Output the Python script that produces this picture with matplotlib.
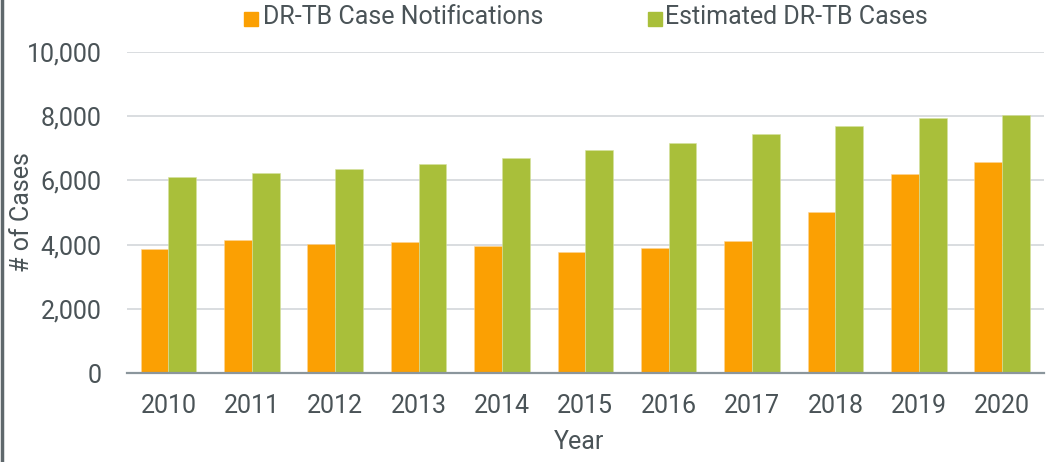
import numpy as np
import matplotlib
matplotlib.use("Agg")
import matplotlib.pyplot as plt
from matplotlib.lines import Line2D
from matplotlib.patches import Rectangle

plt.rcParams['font.family'] = ['Roboto', 'DejaVu Sans']

years = ['2010', '2011', '2012', '2013', '2014', '2015',
         '2016', '2017', '2018', '2019', '2020']
notifications = [3850, 4150, 4020, 4080, 3970, 3760, 3900, 4100, 5010, 6190, 6560]
estimated = [6110, 6220, 6360, 6500, 6700, 6940, 7160, 7440, 7690, 7930, 8030]
series_names = ['DR-TB Case Notifications', 'Estimated DR-TB Cases']

orange = '#FBA003'
green = '#A9BF3A'
text_col = '#4A5357'
W, H = 1047, 462

fig = plt.figure(figsize=(W / 100, H / 100), dpi=100)
ax = fig.add_axes([0.121, 0.192, 0.876, 0.6965])

x = np.arange(len(years))
w = 0.333
ax.bar(x - w / 2, notifications, width=w, color=orange, edgecolor='#FDD59A', linewidth=0.4, zorder=3)
ax.bar(x + w / 2, estimated, width=w, color=green, edgecolor='#D6E2A0', linewidth=0.4, zorder=3)

ax.set_xlim(-0.5, len(years) - 0.5)
ax.set_ylim(0, 10000)
ax.set_yticks(range(0, 10001, 2000))
ax.set_yticklabels([f'{v:,}' for v in range(0, 10001, 2000)])
ax.set_xticks(x)
ax.set_xticklabels(years)

ax.grid(axis='y', color='#D3D7DA', linewidth=1.2, zorder=0)
ax.set_axisbelow(True)
for s in ['top', 'right', 'left']:
    ax.spines[s].set_visible(False)
ax.spines['bottom'].set_color('#8B969C')
ax.spines['bottom'].set_linewidth(1.6)
ax.spines['bottom'].set_zorder(4)

ax.tick_params(axis='both', length=0, labelsize=18, labelcolor=text_col)
ax.tick_params(axis='y', pad=18)
ax.tick_params(axis='x', pad=15)

# axis titles placed where the reference has them
fig.text(22 / W, 1 - 212 / H, '# of Cases', rotation=90, ha='center', va='center',
         fontsize=18, color=text_col)
fig.text(579 / W, 1 - 442 / H, 'Year', ha='center', va='center',
         fontsize=18, color=text_col)

# legend row along the top
for (sq_x, tx_x), col, name in zip([(244, 263), (648, 665)], [orange, green], series_names):
    fig.add_artist(Rectangle((sq_x / W, 1 - 26 / H), 14 / W, 14 / H,
                             transform=fig.transFigure, color=col))
    fig.text(tx_x / W, 1 - 17 / H, name, ha='left', va='center',
             fontsize=18, color=text_col)

# dark frame edge at the left side
fig.add_artist(Line2D([0.0015, 0.0015], [0, 1], transform=fig.transFigure,
                      color='#5F686C', linewidth=2.5))

fig.savefig('out.png', dpi=100)
